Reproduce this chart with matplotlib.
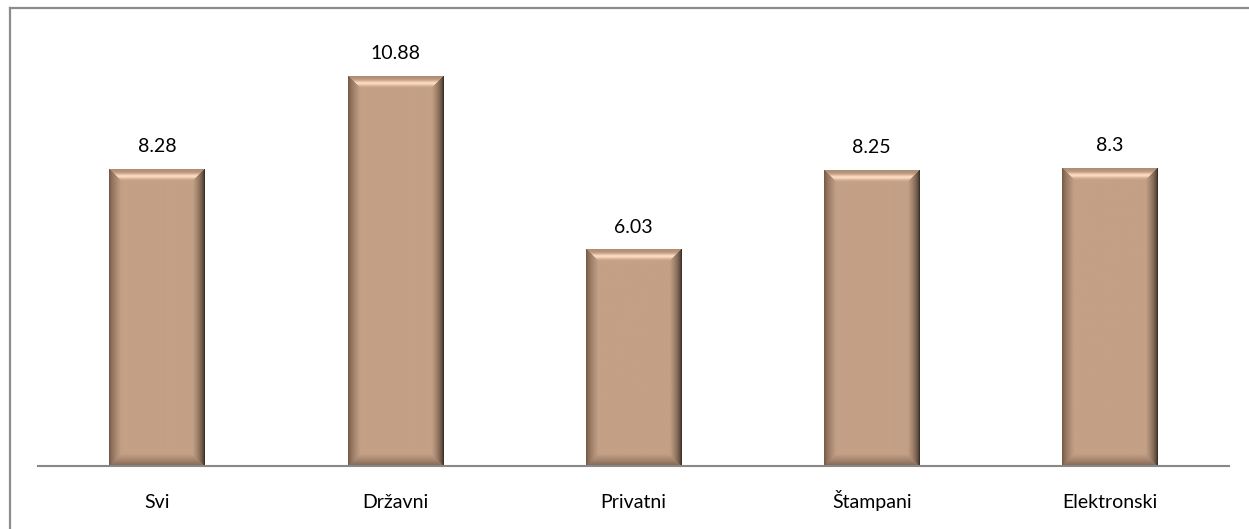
import numpy as np
import matplotlib
matplotlib.use("Agg")
import matplotlib.pyplot as plt
from matplotlib.lines import Line2D
from matplotlib.colors import to_rgb

plt.rcParams["font.family"] = ["Lato", "DejaVu Sans"]

categories = ["Svi", "Državni", "Privatni", "Štampani", "Elektronski"]
values = [8.28, 10.88, 6.03, 8.25, 8.3]
value_labels = ["8.28", "10.88", "6.03", "8.25", "8.3"]

W, H, DPI = 1249, 529, 100
fig = plt.figure(figsize=(W / DPI, H / DPI), dpi=DPI)
fig.patch.set_facecolor("white")

left, right, bottom, top = 38 / W, 1229 / W, 1 - 466 / H, 1 - 36 / H
ax = fig.add_axes([left, bottom, right - left, top - bottom])

bar_w = 0.4
xs = np.arange(len(categories))
ax.set_xlim(-0.5, len(categories) - 0.5)
ax.set_ylim(0, 12)

ax_w_px = (right - left) * W
ax_h_px = (top - bottom) * H
px_per_x = ax_w_px / len(categories)
px_per_y = ax_h_px / 12.0

face = np.array(to_rgb("#C3A086"))
top_hi = np.array(to_rgb("#FCDABF"))
top_edge = np.array(to_rgb("#B08D75"))
right_dark = np.array(to_rgb("#1E140E"))
left_edge = np.array(to_rgb("#6E5342"))
bot_edge = np.array(to_rgb("#7E604D"))


def bevel_image(wpx, hpx, b=12):
    x = np.arange(wpx) + 0.5
    y = np.arange(hpx) + 0.5
    X, Y = np.meshgrid(x, y)
    D = np.stack([X, wpx - X, Y, hpx - Y])
    idx = np.argmin(D, axis=0)
    d = np.min(D, axis=0)
    t = np.clip(d / b, 0, 1)[..., None]
    img = np.tile(face, (hpx, wpx, 1))
    c_left = left_edge + (face - left_edge) * t ** 0.7
    c_right = right_dark + (face - right_dark) * t ** 0.5
    bump = np.exp(-((t - 0.6) ** 2) / 0.05)
    c_top = top_edge + (face - top_edge) * t
    c_top = c_top + (top_hi - c_top) * bump
    c_bot = bot_edge + (face - bot_edge) * t ** 0.8
    inb = (d < b)[..., None]
    img = np.where(inb & (idx == 0)[..., None], c_left, img)
    img = np.where(inb & (idx == 1)[..., None], c_right, img)
    img = np.where(inb & (idx == 2)[..., None], c_top, img)
    img = np.where(inb & (idx == 3)[..., None], c_bot, img)
    return np.clip(img, 0, 1)


ax.bar(xs, values, width=bar_w, color="#C3A086", zorder=2)
for xi, v in zip(xs, values):
    wpx = int(round(bar_w * px_per_x))
    hpx = int(round(v * px_per_y))
    img = bevel_image(wpx, hpx)
    ax.imshow(img, extent=(xi - bar_w / 2, xi + bar_w / 2, 0, v),
              aspect="auto", interpolation="bilinear", zorder=3)

for xi, v, lab in zip(xs, values, value_labels):
    ax.annotate(lab, (xi, v), xytext=(0, 12.5), textcoords="offset points",
                ha="center", va="baseline", fontsize=14, color="#000000")

ax.set_xlim(-0.5, len(categories) - 0.5)
ax.set_ylim(0, 12)
ax.set_aspect("auto")

for s in ["top", "right", "left"]:
    ax.spines[s].set_visible(False)
ax.spines["bottom"].set_color("#888888")
ax.spines["bottom"].set_linewidth(1.5)
ax.spines["bottom"].set_zorder(4)
ax.set_yticks([])
ax.set_xticks(xs)
ax.set_xticklabels(categories, fontsize=14, va="baseline")
ax.tick_params(axis="x", length=0, pad=30)

lc = "#8C8C8C"
fig.add_artist(Line2D([9.5 / W, 1.0], [1 - 7.5 / H, 1 - 7.5 / H], color=lc, lw=1.6,
                      transform=fig.transFigure))
fig.add_artist(Line2D([9.5 / W, 9.5 / W], [0, 1 - 7.5 / H], color=lc, lw=1.6,
                      transform=fig.transFigure))

fig.savefig("out.png", dpi=DPI, facecolor="white")
